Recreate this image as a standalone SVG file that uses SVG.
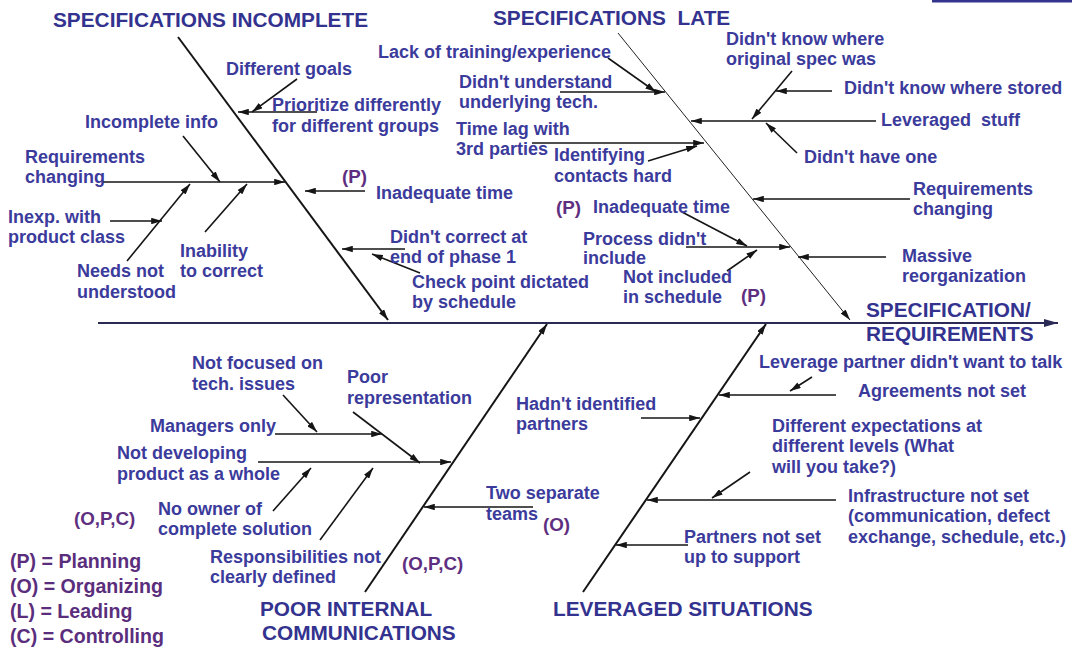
<svg xmlns="http://www.w3.org/2000/svg" width="1072" height="648" viewBox="0 0 1072 648">
  <style>
    .t { font-family: "Liberation Sans", Arial, sans-serif; font-weight: bold; font-size: 18px; fill: #3b3b9c; }
    .h { font-family: "Liberation Sans", Arial, sans-serif; font-weight: bold; font-size: 20.8px; fill: #33338f; }
    .p { font-family: "Liberation Sans", Arial, sans-serif; font-weight: bold; font-size: 18.8px; fill: #5e2f80; }
    .lg { font-family: "Liberation Sans", Arial, sans-serif; font-weight: bold; font-size: 19.6px; fill: #5a2e7c; }
    .c { stroke: #151515; stroke-width: 1.6; fill: none; marker-end: url(#ah); }
    .bone { stroke: #151515; stroke-width: 2; fill: none; marker-end: url(#ah); }
    .thin { stroke: #222; stroke-width: 1; fill: none; marker-end: url(#ah); }
    .spine { stroke: #2a2a55; stroke-width: 2.2; fill: none; marker-end: url(#big); }
  </style>
  <defs>
    <marker id="ah" viewBox="0 0 10 6" refX="10" refY="3" markerWidth="11" markerHeight="6.5" markerUnits="userSpaceOnUse" orient="auto">
      <path d="M0,0 L10,3 L0,6 Z" fill="#151515"/>
    </marker>
    <marker id="big" viewBox="0 0 14 8" refX="14" refY="4" markerWidth="16" markerHeight="8" markerUnits="userSpaceOnUse" orient="auto">
      <path d="M0,0 L14,4 L0,8 Z" fill="#2a2a55"/>
    </marker>
  </defs>

  <rect width="1072" height="648" fill="#ffffff"/>
  <line x1="932" y1="1.2" x2="1072" y2="1.2" stroke="#34348f" stroke-width="2.4"/>

  <!-- connectors: spine, main bones and cause arrows -->
  <g id="connectors">
    <line class="spine" x1="98" y1="323" x2="1058" y2="323"/>
    <line class="bone" x1="178" y1="37" x2="388" y2="320"/>
    <line class="thin" x1="618" y1="33" x2="850" y2="320"/>
    <line class="bone" x1="365" y1="592" x2="547" y2="324"/>
    <line class="bone" x1="583" y1="592" x2="766" y2="324"/>

    <!-- specifications incomplete -->
    <line class="c" x1="297" y1="79" x2="252" y2="112"/>
    <line class="c" x1="317" y1="112" x2="238" y2="112"/>
    <line class="c" x1="183" y1="136" x2="220" y2="182"/>
    <line class="c" x1="103" y1="182" x2="285" y2="182"/>
    <line class="c" x1="110" y1="221" x2="162" y2="221"/>
    <line class="c" x1="127" y1="261" x2="190" y2="184"/>
    <line class="c" x1="205" y1="232" x2="247" y2="184"/>
    <line class="c" x1="365" y1="191" x2="305" y2="191"/>
    <line class="c" x1="405" y1="249" x2="342" y2="249"/>
    <line class="c" x1="420" y1="273" x2="372" y2="254"/>

    <!-- specifications late -->
    <line class="c" x1="608" y1="58" x2="656" y2="92"/>
    <line class="c" x1="560" y1="92" x2="665" y2="92"/>
    <line class="c" x1="532" y1="143" x2="704" y2="143"/>
    <line class="c" x1="648" y1="161" x2="697" y2="146"/>
    <line class="c" x1="876" y1="121" x2="691" y2="121"/>
    <line class="c" x1="792" y1="71" x2="752" y2="119"/>
    <line class="c" x1="832" y1="91" x2="776" y2="91"/>
    <line class="c" x1="797" y1="153" x2="766" y2="123"/>
    <line class="c" x1="910" y1="199" x2="753" y2="199"/>
    <line class="c" x1="682" y1="212" x2="747" y2="246"/>
    <line class="c" x1="686" y1="247" x2="790" y2="247"/>
    <line class="c" x1="727" y1="271" x2="757" y2="250"/>
    <line class="c" x1="886" y1="257" x2="798" y2="257"/>

    <!-- poor internal communications -->
    <line class="c" x1="283" y1="395" x2="317" y2="432"/>
    <line class="c" x1="275" y1="434" x2="382" y2="434"/>
    <line class="c" x1="353" y1="412" x2="420" y2="463"/>
    <line class="c" x1="258" y1="462" x2="451" y2="462"/>
    <line class="c" x1="273" y1="511" x2="311" y2="468"/>
    <line class="c" x1="320" y1="540" x2="373" y2="468"/>
    <line class="c" x1="533" y1="507" x2="424" y2="507"/>

    <!-- leveraged situations -->
    <line class="c" x1="641" y1="418" x2="700" y2="418"/>
    <line class="c" x1="836" y1="395" x2="719" y2="395"/>
    <line class="c" x1="812" y1="377" x2="790" y2="391"/>
    <line class="c" x1="836" y1="500" x2="647" y2="500"/>
    <line class="c" x1="750" y1="472" x2="712" y2="498"/>
    <line class="c" x1="688" y1="545" x2="616" y2="545"/>
  </g>

  <!-- category headings and effect -->
  <g id="cat-incomplete"><text class="h" x="53" y="27">SPECIFICATIONS INCOMPLETE</text></g>
  <g id="cat-late"><text class="h" x="493" y="25" xml:space="preserve">SPECIFICATIONS  LATE</text></g>
  <g id="effect">
    <text class="h" x="866" y="317">SPECIFICATION/</text>
    <text class="h" x="866" y="341">REQUIREMENTS</text>
  </g>
  <g id="cat-communications">
    <text class="h" x="260" y="616">POOR INTERNAL</text>
    <text class="h" x="262" y="640">COMMUNICATIONS</text>
  </g>
  <g id="cat-leveraged"><text class="h" x="553" y="616">LEVERAGED SITUATIONS</text></g>

  <!-- causes: specifications incomplete -->
  <g id="different-goals"><text class="t" x="226" y="75">Different goals</text></g>
  <g id="prioritize">
    <text class="t" x="272" y="111">Prioritize differently</text>
    <text class="t" x="272" y="132">for different groups</text>
  </g>
  <g id="incomplete-info"><text class="t" x="85" y="128">Incomplete info</text></g>
  <g id="req-changing-1">
    <text class="t" x="25" y="163">Requirements</text>
    <text class="t" x="25" y="183">changing</text>
  </g>
  <g id="inexp">
    <text class="t" x="8" y="223">Inexp. with</text>
    <text class="t" x="8" y="243">product class</text>
  </g>
  <g id="needs-not-understood">
    <text class="t" x="77" y="277">Needs not</text>
    <text class="t" x="77" y="298">understood</text>
  </g>
  <g id="inability">
    <text class="t" x="180" y="257">Inability</text>
    <text class="t" x="180" y="277">to correct</text>
  </g>
  <g id="inadequate-time-1">
    <text class="p" x="342" y="183">(P)</text>
    <text class="t" x="376" y="199">Inadequate time</text>
  </g>
  <g id="didnt-correct">
    <text class="t" x="390" y="243">Didn't correct at</text>
    <text class="t" x="390" y="263">end of phase 1</text>
  </g>
  <g id="check-point">
    <text class="t" x="412" y="288">Check point dictated</text>
    <text class="t" x="412" y="308">by schedule</text>
  </g>

  <!-- causes: specifications late -->
  <g id="lack-training"><text class="t" x="378" y="58">Lack of training/experience</text></g>
  <g id="didnt-understand">
    <text class="t" x="459" y="88">Didn't understand</text>
    <text class="t" x="459" y="108">underlying tech.</text>
  </g>
  <g id="time-lag">
    <text class="t" x="456" y="135">Time lag with</text>
    <text class="t" x="456" y="155">3rd parties</text>
  </g>
  <g id="identifying">
    <text class="t" x="554" y="161">Identifying</text>
    <text class="t" x="554" y="182">contacts hard</text>
  </g>
  <g id="inadequate-time-2">
    <text class="p" x="556" y="214">(P)</text>
    <text class="t" x="593" y="213">Inadequate time</text>
  </g>
  <g id="process-didnt">
    <text class="t" x="583" y="245">Process didn't</text>
    <text class="t" x="583" y="264">include</text>
  </g>
  <g id="not-included">
    <text class="t" x="623" y="283">Not included</text>
    <text class="t" x="623" y="303">in schedule</text>
    <text class="p" x="741" y="302">(P)</text>
  </g>
  <g id="didnt-know-original">
    <text class="t" x="726" y="45">Didn't know where</text>
    <text class="t" x="726" y="65">original spec was</text>
  </g>
  <g id="didnt-know-stored"><text class="t" x="844" y="94">Didn't know where stored</text></g>
  <g id="leveraged-stuff"><text class="t" x="881" y="126" xml:space="preserve">Leveraged  stuff</text></g>
  <g id="didnt-have-one"><text class="t" x="804" y="163">Didn't have one</text></g>
  <g id="req-changing-2">
    <text class="t" x="913" y="195">Requirements</text>
    <text class="t" x="913" y="215">changing</text>
  </g>
  <g id="massive-reorg">
    <text class="t" x="902" y="262">Massive</text>
    <text class="t" x="902" y="282">reorganization</text>
  </g>

  <!-- causes: poor internal communications -->
  <g id="not-focused">
    <text class="t" x="192" y="369">Not focused on</text>
    <text class="t" x="192" y="390">tech. issues</text>
  </g>
  <g id="poor-representation">
    <text class="t" x="347" y="383">Poor</text>
    <text class="t" x="347" y="404">representation</text>
  </g>
  <g id="managers-only"><text class="t" x="150" y="432">Managers only</text></g>
  <g id="not-developing">
    <text class="t" x="117" y="459">Not developing</text>
    <text class="t" x="117" y="480">product as a whole</text>
  </g>
  <g id="no-owner">
    <text class="p" x="74" y="525">(O,P,C)</text>
    <text class="t" x="158" y="515">No owner of</text>
    <text class="t" x="158" y="535">complete solution</text>
  </g>
  <g id="responsibilities">
    <text class="t" x="210" y="563">Responsibilities not</text>
    <text class="t" x="210" y="583">clearly defined</text>
    <text class="p" x="402" y="570">(O,P,C)</text>
  </g>
  <g id="two-teams">
    <text class="t" x="486" y="499">Two separate</text>
    <text class="t" x="486" y="520">teams</text>
    <text class="p" x="543" y="531">(O)</text>
  </g>

  <!-- causes: leveraged situations -->
  <g id="hadnt-identified">
    <text class="t" x="516" y="410">Hadn't identified</text>
    <text class="t" x="516" y="430">partners</text>
  </g>
  <g id="partner-talk"><text class="t" x="759" y="368">Leverage partner didn't want to talk</text></g>
  <g id="agreements"><text class="t" x="858" y="397">Agreements not set</text></g>
  <g id="expectations">
    <text class="t" x="772" y="432">Different expectations at</text>
    <text class="t" x="772" y="452">different levels (What</text>
    <text class="t" x="772" y="473">will you take?)</text>
  </g>
  <g id="infrastructure">
    <text class="t" x="848" y="502">Infrastructure not set</text>
    <text class="t" x="848" y="522">(communication, defect</text>
    <text class="t" x="848" y="543">exchange, schedule, etc.)</text>
  </g>
  <g id="partners-support">
    <text class="t" x="684" y="543">Partners not set</text>
    <text class="t" x="684" y="563">up to support</text>
  </g>

  <!-- legend -->
  <g id="legend">
    <text class="lg" x="10" y="568">(P) = Planning</text>
    <text class="lg" x="10" y="593">(O) = Organizing</text>
    <text class="lg" x="10" y="618">(L) = Leading</text>
    <text class="lg" x="10" y="643">(C) = Controlling</text>
  </g>
</svg>
